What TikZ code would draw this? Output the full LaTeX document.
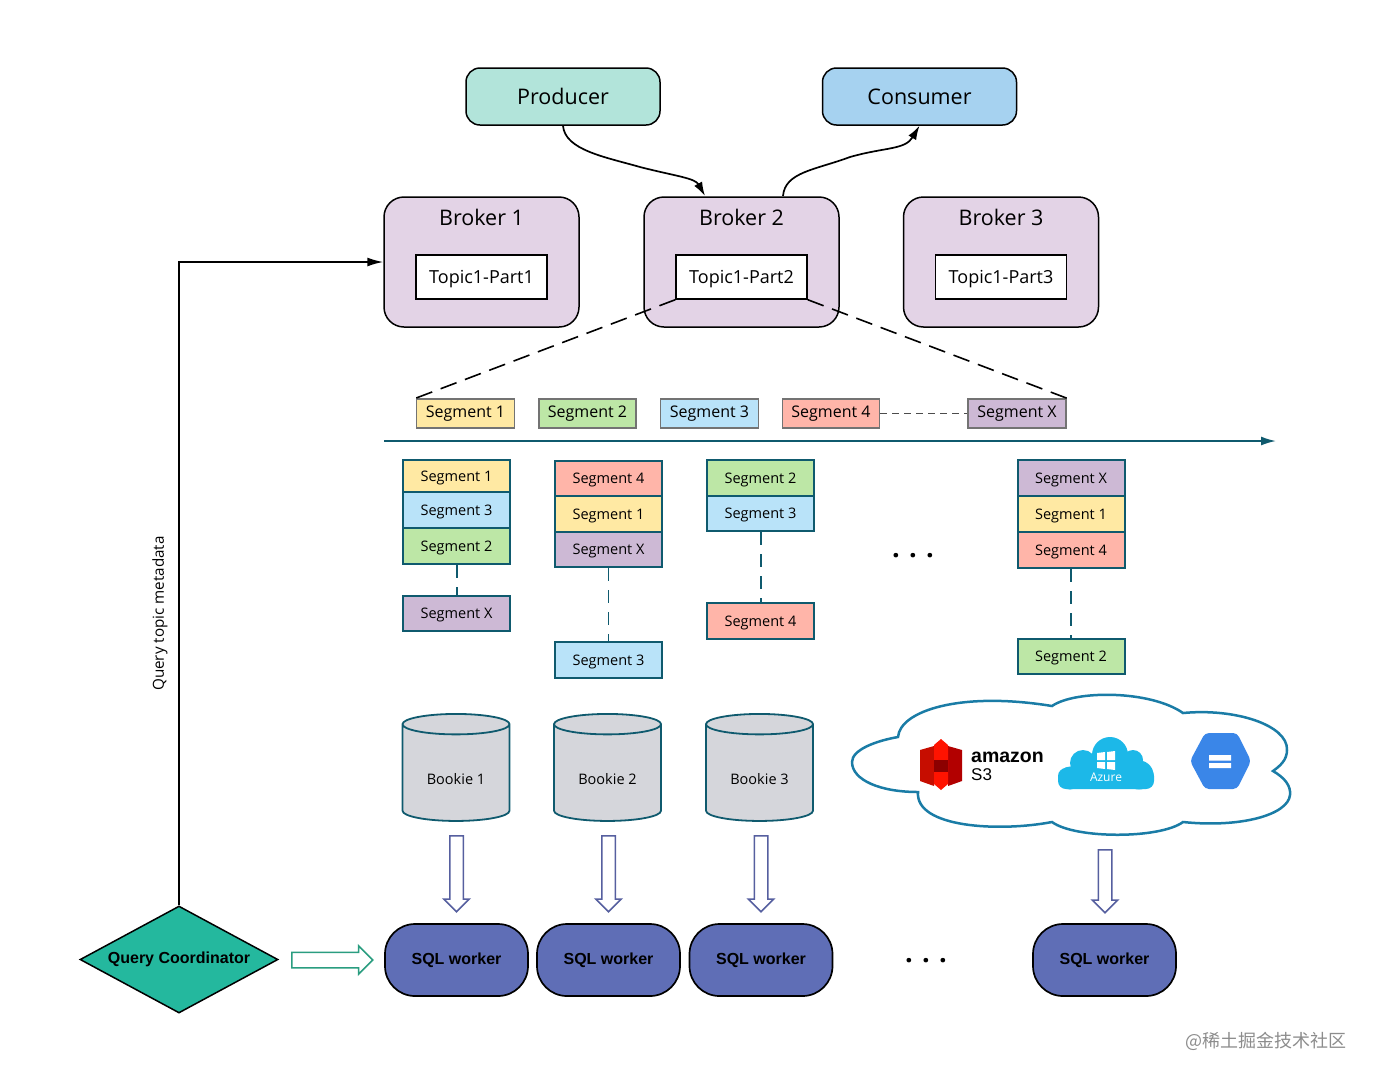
\documentclass[tikz,border=0pt]{standalone}
\usepackage{fontspec}
\setmainfont{Open Sans}
\newfontfamily\arialfont{Liberation Sans}
\newfontfamily\cjkfont{Noto Sans CJK SC}
\usetikzlibrary{shapes.geometric,shapes.arrows,arrows.meta}
\definecolor{segyellow}{HTML}{FFE9A3}
\definecolor{seggreen}{HTML}{BDE7A6}
\definecolor{segblue}{HTML}{B9E3F9}
\definecolor{segred}{HTML}{FFB5A9}
\definecolor{segpurple}{HTML}{CDB9D5}
\definecolor{tealline}{HTML}{0F5A6E}
\definecolor{brokerfill}{HTML}{E3D3E6}
\definecolor{producerfill}{HTML}{B2E4DA}
\definecolor{consumerfill}{HTML}{A6D2F0}
\definecolor{workerfill}{HTML}{5F6EB6}
\definecolor{bookiefill}{HTML}{D5D6DB}
\definecolor{coordfill}{HTML}{24B89E}
\definecolor{arrowblue}{HTML}{565F9F}
\definecolor{arrowgreen}{HTML}{2A9D80}
\definecolor{cloudline}{HTML}{1A7CA6}
\definecolor{azurefill}{HTML}{1CB8E8}
\definecolor{gcsfill}{HTML}{3A86E8}
\tikzset{
  client/.style={draw, rounded corners=14pt, line width=1.5pt, minimum width=194pt, minimum height=57pt, font=\fontsize{21.5}{22}\selectfont},
  broker/.style={draw, rounded corners=20pt, line width=1.5pt, fill=brokerfill, minimum width=195pt, minimum height=130pt},
  topic/.style={draw, fill=white, line width=1.4pt, minimum width=131pt, minimum height=44pt, text depth=0pt, font=\fontsize{18}{18}\selectfont},
  rowseg/.style={draw=black!55, line width=1.6pt, minimum width=98pt, minimum height=29pt, inner sep=0pt, font=\fontsize{16}{16}\selectfont},
  stackseg/.style={draw=tealline, line width=2pt, minimum width=107pt, inner sep=0pt, text depth=0pt, font=\fontsize{14.5}{15}\selectfont},
  bookie/.style={draw=tealline, line width=1.8pt, fill=bookiefill, cylinder, shape border rotate=90, aspect=.35, minimum width=107pt, minimum height=107pt, inner sep=0pt, text height=22pt, text depth=0pt, font=\fontsize{14.5}{15}\selectfont},
  sqlworker/.style={draw, line width=1.7pt, fill=workerfill, rounded corners=30pt, minimum width=143pt, minimum height=72pt, font=\arialfont\bfseries\fontsize{16}{16}\selectfont},
  downarrow/.style={draw=arrowblue, fill=white, line width=1.5pt, single arrow, rotate=-90, anchor=tail, single arrow head extend=6pt, inner sep=6pt, minimum height=76pt},
  dots/.style={font=\bfseries\fontsize{27}{27}\selectfont},
  stacklink/.style={draw=tealline, line width=2pt, dash pattern=on 13pt off 9pt},
  linkarrow/.style={-{Latex[length=14pt,width=9pt]},line width=1.7pt}
}
\begin{document}
\begin{tikzpicture}[x=1pt,y=-1pt]
    \useasboundingbox (0,0) rectangle (1375,1080);

    \node[client, fill=producerfill] (producer) at (563,96.5) {Producer};
    \node[client, fill=consumerfill] (consumer) at (919.5,96.5) {Consumer};

    \foreach \k/\x in {1/481.5,2/741.5,3/1001}{
        \node[broker] (broker\k) at (\x,262) {};
        \node[font=\fontsize{21.5}{22}\selectfont] (brokertitle\k) at (\x,217) {Broker \k};
        \node[topic] (topic\k) at (\x,277) {Topic1-Part\k};
    }

    \coordinate (b2in) at (705,196);
    \coordinate (b2out) at (783,196);
    \draw[linkarrow] (producer.south) .. controls (565,150) and (605,157) .. (640,167) .. controls (675,176) and (695,178) .. (b2in);
    \draw[linkarrow] (b2out) .. controls (785,172) and (815,170) .. (850,157) .. controls (885,147) and (905,150) .. (consumer.south);

    \foreach \n/\x/\w/\c/\t in {a/465.5/98/segyellow/Segment 1, b/587.5/97/seggreen/Segment 2, c/709.5/98/segblue/Segment 3, d/831/97/segred/Segment 4, x/1017/98/segpurple/Segment X}
        \node[rowseg, minimum width=\w pt, fill=\c] (row\n) at (\x,413.5) {\t};

    \draw[line width=1pt,black!70,dash pattern=on 7pt off 5pt] (rowd) -- (rowx);
    \draw[line width=1.6pt,dash pattern=on 17pt off 9pt] (topic2.south west) -- (rowa.north west);
    \draw[line width=1.6pt,dash pattern=on 17pt off 9pt] (topic2.south east) -- (rowx.north east);

    \coordinate (timestart) at (384,441);
    \coordinate (timeend) at (1276,441);
    \draw[-{Latex[length=15pt,width=9pt]},line width=1.7pt,color=tealline] (timestart) -- (timeend);

    % ledger stacks
    \foreach \n/\x/\y/\h/\c/\t in {
        aa/456.5/476/32/segyellow/Segment 1, ab/456.5/510/36/segblue/Segment 3, ac/456.5/546/36/seggreen/Segment 2, ad/456.5/613.5/35/segpurple/Segment X,
        ba/608.5/478.5/35/segred/Segment 4, bb/608.5/514/36/segyellow/Segment 1, bc/608.5/549.5/35/segpurple/Segment X, bd/608.5/660/36/segblue/Segment 3,
        ca/760.5/478/36/seggreen/Segment 2, cb/760.5/513.5/35/segblue/Segment 3, cd/760.5/621/36/segred/Segment 4,
        da/1071/478/36/segpurple/Segment X, db/1071/514/36/segyellow/Segment 1, dc/1071/550/36/segred/Segment 4, dd/1071/656.5/35/seggreen/Segment 2}
        \node[stackseg, minimum height=\h pt, fill=\c] (s\n) at (\x,\y) {\t};

    \draw[stacklink] (sac) -- (sad);
    \draw[stacklink, line width=1.4pt] (sbc) -- (sbd);
    \draw[stacklink] (scb) -- (scd);
    \draw[stacklink] (sdc) -- (sdd);

    \node[dots] (dotsa) at (913,556) {. . .};
    \node[dots] (dotsb) at (926,961) {. . .};

    \foreach \k/\x in {1/456,2/607.5,3/759.5}
        \node[bookie] (bookie\k) at (\x,773) {Bookie \k};

    % cloud
    \draw[color=cloudline, line width=2.5pt, fill=white] (852,762)
        .. controls (852,750) and (875,741) .. (898,737)
        .. controls (900,711) and (960,691) .. (1052,706)
        .. controls (1075,690) and (1150,690) .. (1183,713)
        .. controls (1235,708) and (1288,725) .. (1287,750)
        .. controls (1287,760) and (1280,766) .. (1273,771)
        .. controls (1285,778) and (1291,786) .. (1290,795)
        .. controls (1288,815) and (1240,828) .. (1183,822)
        .. controls (1160,839) and (1075,839) .. (1052,822)
        .. controls (1000,832) and (915,828) .. (918,792)
        .. controls (880,792) and (852,780) .. (852,762) -- cycle;

    % amazon s3
    \fill[red!75!black!90!orange] (920,750) -- (934,746) -- (934,786) -- (920,781) -- cycle;
    \fill[red!70!black] (948,746) -- (962,750) -- (962,781) -- (948,786) -- cycle;
    \fill[red!85!orange] (934,745) -- (941,739) -- (948,745) -- (948,784) -- (941,790) -- (934,784) -- cycle;
    \fill[red!55!black] (934,760) rectangle (948,772);
    \node[font=\arialfont\bfseries\fontsize{19.5}{20}\selectfont, inner sep=0pt, anchor=west] (amazonlabel) at (971,757) {amazon};
    \node[font=\arialfont\fontsize{17}{17}\selectfont, inner sep=0pt, anchor=west] (s3label) at (971,775) {S3};

    % azure
    \fill[azurefill] (1070,778) circle (11.5) (1083,763) circle (13) (1110,755) circle (18) (1133,760) circle (10) (1139,775) circle (14.5);
    \fill[azurefill, rounded corners=8pt] (1058,768) rectangle (1154,789);
    \fill[azurefill] (1080,755) rectangle (1135,775);
    \fill[white] (1097,753) -- (1105,752) -- (1105,760) -- (1097,760) -- cycle
        (1107,752) -- (1115,751) -- (1115,760) -- (1107,760) -- cycle
        (1097,762) -- (1105,762) -- (1105,769) -- (1097,768) -- cycle
        (1107,762) -- (1115,762) -- (1115,770) -- (1107,769) -- cycle;
    \node[text=white, font=\fontsize{12}{12}\selectfont, inner sep=0pt] (azurelabel) at (1106,777) {Azure};

    % google storage
    \fill[gcsfill, rounded corners=4pt] (1190,761) -- (1205,733) -- (1237,733) -- (1251,761) -- (1237,789) -- (1205,789) -- cycle;
    \fill[white] (1209,755) rectangle (1231,760.5) (1209,763) rectangle (1231,768);

    \foreach \k/\x in {1/456.5,2/608.5,3/761}{
        \node[downarrow] (flow\k) at (\x,835) {};
        \node[sqlworker] (worker\k) at (\x,960) {SQL worker};
    }
    \node[downarrow, minimum height=63pt] (flow4) at (1105,849) {};
    \node[sqlworker] (worker4) at (1104.5,960) {SQL worker};

    \node[draw, diamond, aspect=1.85, fill=coordfill, line width=1.5pt, minimum width=198pt, minimum height=107pt, inner sep=0pt, font=\arialfont\bfseries\fontsize{16}{16}\selectfont] (coordinator) at (179,959.5) {Query Coordinator};
    \node[draw=arrowgreen, fill=white, line width=1.5pt, single arrow, anchor=tail, single arrow head extend=6.5pt, inner sep=7pt, minimum height=81pt] (flowq) at (291,960) {};

    \draw[-{Latex[length=16pt,width=9pt]},line width=1.6pt] (coordinator.north) |- (broker1.west);
    \node[rotate=90, font=\fontsize{15.2}{16}\selectfont] (metalabel) at (160,613.5) {Query topic metadata};

    \node[text=black!45, font=\cjkfont\fontsize{18}{18}\selectfont, inner sep=0pt, anchor=east] (watermark) at (1347,1041) {@稀土掘金技术社区};
\end{tikzpicture}
\end{document}
